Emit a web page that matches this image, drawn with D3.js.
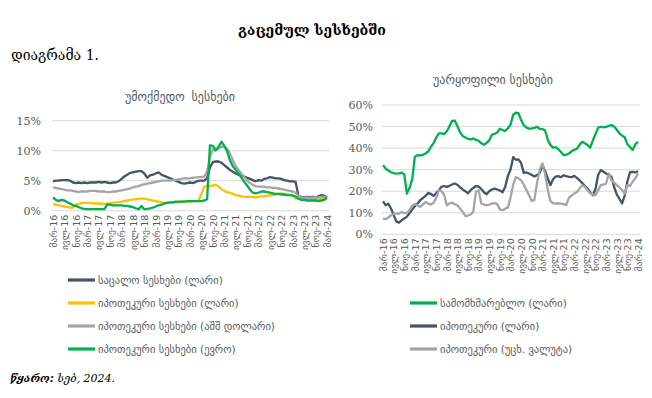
<!DOCTYPE html>
<html>
<head>
<meta charset="utf-8">
<script src="https://cdn.jsdelivr.net/npm/d3@7"></script>
<style>
  body { margin: 0; background: #fff; }
  svg text { font-family: "DejaVu Sans", sans-serif; }
</style>
</head>
<body>
<script>
// tick labels, every 4th month from Mar 2016 to Mar 2024
var tickLabels = ["მარ-16","ივლ-16","ნოე-16","მარ-17","ივლ-17","ნოე-17","მარ-18","ივლ-18","ნოე-18",
  "მარ-19","ივლ-19","ნოე-19","მარ-20","ივლ-20","ნოე-20","მარ-21","ივლ-21","ნოე-21",
  "მარ-22","ივლ-22","ნოე-22","მარ-23","ივლ-23","ნოე-23","მარ-24"];

// left chart: non-performing loans (%)
var retailGel = [4.9,5.0,5.0,5.1,5.1,5.1,5.0,4.7,4.6,4.7,4.6,4.7,4.6,4.7,4.7,4.7,4.8,4.7,4.8,4.7,
  4.6,4.7,4.7,4.9,5.3,5.7,6.0,6.3,6.4,6.5,6.6,6.6,6.2,5.5,5.9,6.0,6.2,6.4,6.0,5.8,
  5.6,5.4,5.2,5.0,4.8,4.6,4.5,4.6,4.7,4.6,4.8,5.0,5.0,5.0,5.5,7.2,8.1,8.2,8.2,8.0,
  7.6,7.2,6.8,6.5,6.2,6.0,5.8,5.7,5.5,5.3,5.1,4.9,5.1,5.0,5.3,5.4,5.6,5.5,5.4,5.4,
  5.3,5.1,5.0,4.9,4.9,4.8,2.5,2.3,2.2,2.3,2.2,2.3,2.2,2.4,2.6,2.5,2.2];
var mortGel = [1.1,1.0,0.9,0.8,0.7,0.6,0.5,0.5,1.0,1.1,1.3,1.3,1.3,1.3,1.2,1.2,1.2,1.2,1.1,1.2,
  1.2,1.3,1.4,1.4,1.5,1.6,1.7,1.8,1.9,1.9,2.0,2.0,2.0,1.9,1.8,1.7,1.6,1.5,1.4,1.3,
  1.3,1.3,1.4,1.4,1.4,1.5,1.5,1.5,1.5,1.6,1.6,1.7,2.8,4.0,4.1,4.1,4.2,4.3,4.0,3.6,
  3.3,3.1,3.0,2.8,2.6,2.5,2.4,2.3,2.3,2.3,2.3,2.2,2.3,2.4,2.4,2.5,2.6,2.6,2.7,2.8,
  2.9,2.8,2.7,2.6,2.6,2.0,2.0,1.9,1.9,1.9,1.8,1.8,1.8,1.9,1.9,2.0,2.0];
var mortUsd = [3.9,3.8,3.7,3.6,3.5,3.4,3.4,3.3,3.2,3.1,3.2,3.2,3.2,3.3,3.3,3.3,3.2,3.2,3.2,3.1,
  3.1,3.2,3.2,3.3,3.4,3.5,3.6,3.7,3.9,4.0,4.1,4.3,4.4,4.5,4.6,4.7,4.8,4.9,5.0,5.0,
  5.0,5.0,5.1,5.1,5.2,5.3,5.4,5.4,5.4,5.5,5.5,5.6,5.6,5.7,6.5,9.0,10.2,10.0,10.4,10.6,
  10.7,10.3,9.5,8.4,7.4,6.8,6.2,5.6,5.0,4.6,4.3,4.1,4.0,4.0,4.0,3.9,3.9,3.8,3.8,3.7,
  3.6,3.5,3.4,3.3,3.2,3.0,2.5,2.2,2.1,2.2,2.1,2.2,2.2,2.2,2.3,2.3,2.2];
var mortEur = [2.2,1.8,1.6,1.8,1.7,1.4,1.2,0.9,0.8,0.6,0.4,0.3,0.25,0.25,0.25,0.25,0.25,0.25,0.25,1.0,
  1.0,0.9,0.9,0.9,0.9,0.8,0.8,0.7,0.6,0.4,0.25,0.8,0.25,0.3,0.4,0.5,0.7,0.9,1.0,1.2,
  1.3,1.4,1.4,1.5,1.5,1.5,1.5,1.6,1.6,1.6,1.6,1.6,1.6,1.7,1.9,10.9,10.8,10.1,10.6,11.5,
  10.8,9.9,8.4,7.4,6.8,6.2,5.5,4.8,4.2,3.5,3.0,2.9,3.0,3.2,3.2,3.1,3.0,2.9,2.8,2.8,
  2.7,2.7,2.6,2.6,2.5,2.4,2.0,1.8,1.8,1.7,1.7,1.7,1.7,1.6,1.7,1.8,2.2];

// right chart: rejected loans (%)
var consumerGel = [32.1,30.5,29.6,28.8,28.4,28.2,28.3,28.6,27.8,18.9,21.5,25.5,36.0,36.7,36.6,36.8,37.5,38.4,40.5,42.2,
  44.8,46.8,46.8,46.5,47.8,50.0,52.6,52.8,50.2,47.4,45.6,44.9,44.3,44.0,44.5,43.8,43.4,42.2,41.5,42.4,
  43.6,46.2,46.6,47.2,49.0,48.4,47.9,49.2,50.8,55.4,56.4,56.2,53.0,50.6,49.5,49.0,49.1,49.4,49.9,48.9,
  48.8,48.3,44.0,41.5,40.2,40.5,39.5,38.2,36.7,37.0,37.5,38.5,39.2,39.7,41.5,42.9,42.2,41.4,40.2,43.5,
  46.5,49.5,49.9,49.6,49.8,50.3,50.7,50.0,48.5,46.8,45.8,45.0,41.7,40.5,39.1,41.8,42.9];
var mortgageGel = [15.3,13.5,14.2,12.0,9.0,6.0,5.4,6.5,7.3,8.2,9.8,11.5,13.0,14.3,15.8,16.8,17.8,19.2,18.8,17.8,
  19.0,20.5,22.0,22.4,22.0,22.5,23.1,23.6,23.0,21.8,20.8,20.0,19.0,20.5,21.5,22.4,22.2,21.0,19.5,18.6,
  20.0,20.8,21.2,20.8,20.3,19.5,22.0,27.0,30.0,35.8,34.6,34.8,33.0,28.5,28.7,28.2,27.5,26.8,27.5,28.5,
  32.0,29.5,26.0,22.8,25.5,26.8,27.0,26.5,27.4,27.0,26.7,26.5,27.1,26.2,25.0,23.8,22.4,21.2,19.5,18.1,
  21.0,27.5,29.8,29.0,28.2,27.5,26.7,22.0,18.5,16.5,14.3,18.0,24.5,28.8,29.0,28.7,29.3];
var mortgageFx = [7.3,7.0,7.8,8.8,9.4,9.6,9.6,10.4,9.8,10.0,11.2,13.3,14.0,13.5,12.7,13.8,15.0,14.2,13.8,14.5,
  16.8,20.5,20.0,18.5,13.5,14.3,14.7,14.0,13.5,12.0,10.4,8.5,8.7,9.2,10.5,19.7,20.5,14.3,13.8,13.5,
  13.8,14.3,14.5,14.0,11.5,11.2,11.9,12.5,17.0,23.0,26.5,26.0,25.0,23.0,20.5,18.0,15.5,16.0,24.0,30.0,
  32.9,28.0,21.0,15.5,14.5,14.3,14.4,14.2,14.0,13.5,17.0,18.0,18.9,19.6,21.2,22.8,22.0,20.5,19.0,18.5,
  18.1,20.5,22.8,23.0,23.6,28.2,25.1,24.0,22.8,21.8,20.5,18.9,22.8,22.5,24.5,26.0,28.2];

var navy = "#44546A", yellow = "#FFC000", grey = "#A5A5A5", green = "#00B050";
var textGrey = "#595959";

var svg = d3.select("body").append("svg")
    .attr("width", 652)
    .attr("height", 398);

// titles
svg.append("text")
    .attr("x", 312).attr("y", 35)
    .attr("text-anchor", "middle")
    .style("font-family", "DejaVu Serif, serif")
    .style("font-size", "14px")
    .style("font-weight", "bold")
    .text("გაცემულ სესხებში");

svg.append("text")
    .attr("x", 11).attr("y", 60)
    .style("font-family", "DejaVu Serif, serif")
    .style("font-size", "14px")
    .text("დიაგრამა 1.");

function drawChart(opts) {
    var x = d3.scalePoint()
        .domain(d3.range(opts.series[0].values.length))
        .range([opts.x0, opts.x1]);
    var y = d3.scaleLinear()
        .domain([0, opts.max])
        .range([opts.y0, opts.y1]);

    var g = svg.append("g");

    // gridlines
    g.selectAll("line.grid")
        .data(y.ticks(opts.max / opts.step))
        .enter().append("line")
        .attr("class", "grid")
        .attr("x1", opts.x0 - 1).attr("x2", opts.x1 + 2)
        .attr("y1", function(d) { return y(d); })
        .attr("y2", function(d) { return y(d); })
        .style("stroke", "#D9D9D9")
        .style("stroke-width", 1);

    // y axis labels
    var yAxis = d3.axisLeft(y)
        .tickValues(d3.range(0, opts.max + 0.001, opts.step))
        .tickFormat(function(d) { return d + "%"; })
        .tickSize(0)
        .tickPadding(opts.yPad);
    var ya = g.append("g")
        .attr("transform", "translate(" + opts.x0 + ",0)")
        .call(yAxis);
    ya.select(".domain").remove();
    ya.selectAll("text")
        .style("font-family", "DejaVu Serif, serif")
        .style("font-size", "11px")
        .style("fill", textGrey);

    // x axis labels (rotated)
    var xAxis = d3.axisBottom(x)
        .tickValues(d3.range(0, 97, 4))
        .tickFormat(function(d) { return tickLabels[d / 4]; })
        .tickSize(0);
    var xa = g.append("g")
        .attr("transform", "translate(0," + opts.y0 + ")")
        .call(xAxis);
    xa.select(".domain").remove();
    xa.selectAll("text")
        .attr("transform", "rotate(-90)")
        .attr("x", -4)
        .attr("y", 0)
        .attr("dy", "0.35em")
        .style("text-anchor", "end")
        .style("font-size", "9.5px")
        .style("fill", textGrey);

    var line = d3.line()
        .x(function(d, i) { return x(i); })
        .y(function(d) { return y(d); });

    opts.series.forEach(function(s) {
        g.append("path")
            .datum(s.values)
            .attr("d", line)
            .style("fill", "none")
            .style("stroke", s.color)
            .style("stroke-width", 2.3)
            .style("stroke-linejoin", "round");
    });

    // subtitle
    g.append("text")
        .attr("x", opts.titleX).attr("y", opts.titleY)
        .attr("text-anchor", "middle")
        .style("font-size", "12px")
        .style("word-spacing", opts.wordSpacing + "px")
        .style("fill", textGrey)
        .text(opts.title);

    // legend
    opts.series.forEach(function(s, i) {
        var ly = opts.legendY + i * opts.legendStep;
        g.append("line")
            .attr("x1", opts.legendX).attr("x2", opts.legendX + 27)
            .attr("y1", ly).attr("y2", ly)
            .style("stroke", s.color)
            .style("stroke-width", 3.2);
        g.append("text")
            .attr("x", opts.legendX + 30).attr("y", ly)
            .attr("dy", "0.35em")
            .style("font-size", "10.5px")
            .style("fill", textGrey)
            .text(s.name);
    });
}

drawChart({
    x0: 53, x1: 327, y0: 210.7, y1: 120.7, max: 15, step: 5, yPad: 12,
    title: "უმოქმედო სესხები", titleX: 180, titleY: 101, wordSpacing: 3,
    legendX: 68, legendY: 280, legendStep: 23,
    series: [
        { name: "საცალო სესხები (ლარი)", values: retailGel, color: navy },
        { name: "იპოთეკური სესხები (ლარი)", values: mortGel, color: yellow },
        { name: "იპოთეკური სესხები (აშშ დოლარი)", values: mortUsd, color: grey },
        { name: "იპოთეკური სესხები (ევრო)", values: mortEur, color: green }
    ]
});

drawChart({
    x0: 383, x1: 638, y0: 234.3, y1: 105, max: 60, step: 10, yPad: 10,
    title: "უარყოფილი სესხები", titleX: 493, titleY: 84, wordSpacing: 0,
    legendX: 410, legendY: 303, legendStep: 23,
    series: [
        { name: "სამომხმარებლო (ლარი)", values: consumerGel, color: green },
        { name: "იპოთეკური (ლარი)", values: mortgageGel, color: navy },
        { name: "იპოთეკური (უცხ. ვალუტა)", values: mortgageFx, color: grey }
    ]
});

// source
var src = svg.append("text")
    .attr("x", 10).attr("y", 382)
    .style("font-family", "DejaVu Serif, serif")
    .style("font-size", "11px")
    .style("font-style", "italic");
src.append("tspan").style("font-weight", "bold").text("წყარო:");
src.append("tspan").text(" სებ, 2024.");
</script>
</body>
</html>
